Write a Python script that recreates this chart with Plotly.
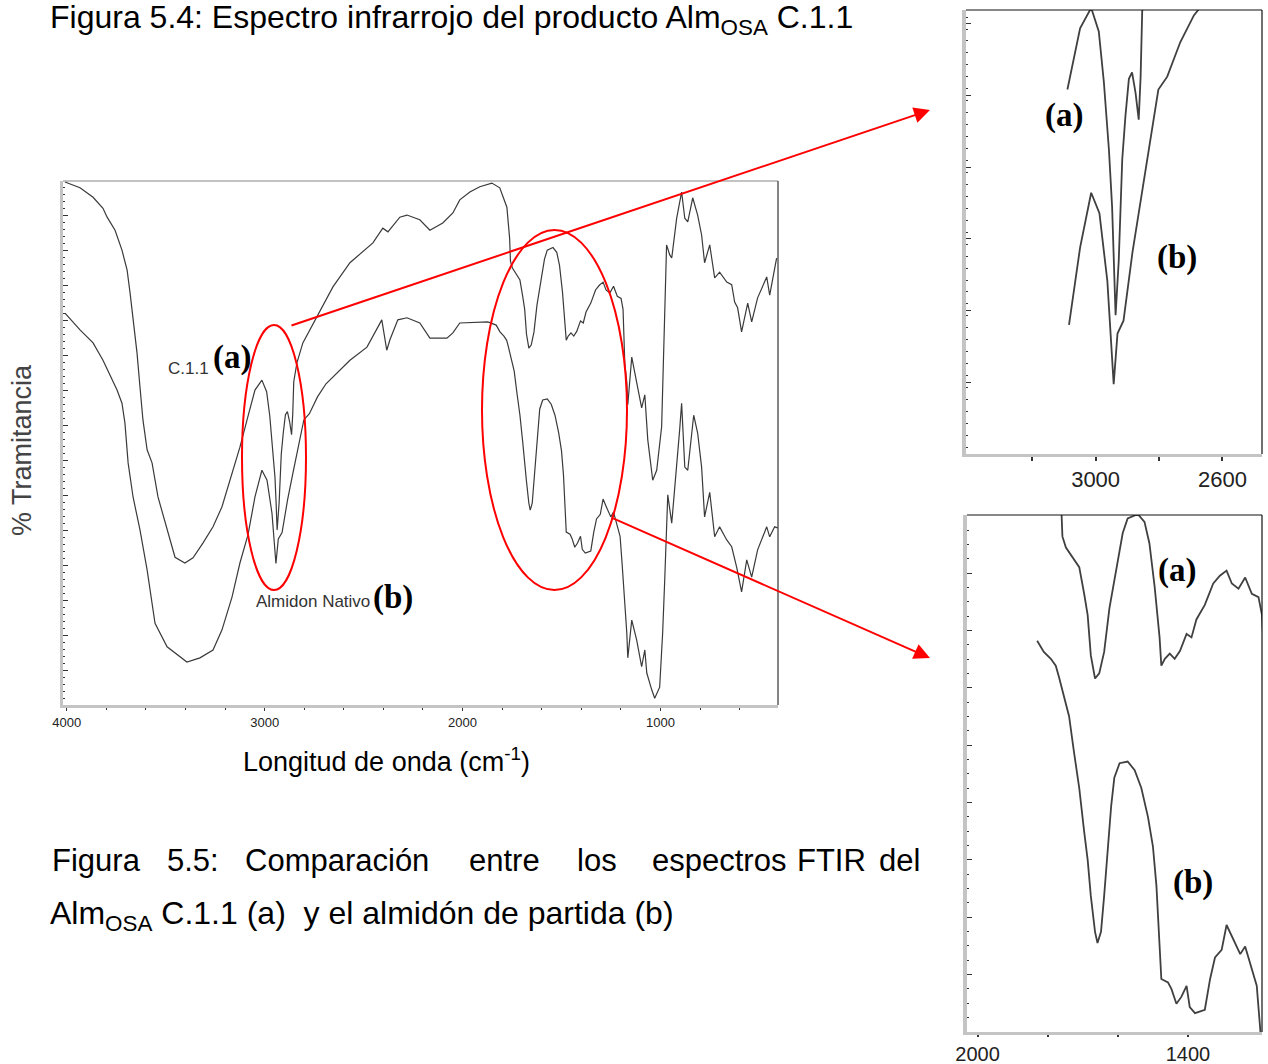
import plotly.graph_objects as go

# ---------------- data ----------------
# Curve (a): Alm_OSA C.1.1 ; wavenumber (cm-1) and % transmittance
a_wn = [4009, 3933, 3867, 3817, 3796, 3756, 3721, 3695, 3680, 3665, 3645, 3630, 3615, 3594,
        3569, 3539, 3493, 3453, 3403, 3362, 3312, 3261, 3216, 3165, 3125, 3089, 3049, 3014,
        2990, 2974, 2958, 2948, 2942, 2937, 2927, 2921, 2916, 2906, 2895, 2885, 2874, 2864,
        2858, 2853, 2837, 2807, 2736, 2655, 2569, 2453, 2403, 2377, 2317, 2281, 2216, 2165,
        2100, 2049, 2014, 1963, 1913, 1852, 1812, 1776, 1762, 1758, 1748, 1729, 1710, 1696,
        1686, 1677, 1665, 1653, 1639, 1624, 1615, 1600, 1586, 1572, 1543, 1524, 1510, 1495,
        1481, 1476, 1466, 1452, 1438, 1423, 1404, 1390, 1376, 1352, 1328, 1309, 1290, 1275,
        1256, 1237, 1218, 1199, 1189, 1185, 1180, 1170, 1165, 1145, 1120, 1095, 1079, 1064,
        1039, 1019, 994, 984, 969, 953, 943, 918, 893, 877, 862, 837, 812, 792, 777, 751,
        726, 701, 665, 640, 625, 610, 590, 559, 539, 509, 463, 448, 433, 413]
a_T = [99.8, 98.7, 96.9, 94.8, 93.1, 90.6, 86.8, 83.0, 78.6, 73.5, 67.2, 60.7, 54.4, 48.7,
       46.2, 39.7, 33.4, 28.2, 27.1, 28.1, 30.9, 34.0, 37.8, 44.3, 49.2, 54.4, 60.1, 62.0,
       59.8, 55.1, 48.8, 43.5, 38.5, 33.4, 38.5, 43.5, 47.9, 51.9, 55.4, 56.0, 54.1, 51.6,
       55.6, 61.7, 65.3, 69.1, 74.0, 79.8, 84.4, 88.2, 91.0, 90.3, 93.1, 93.5, 92.6, 90.6,
       92.0, 93.9, 96.4, 97.9, 98.9, 99.6, 98.7, 95.0, 89.0, 84.7, 83.4, 82.2, 81.1, 78.0,
       75.5, 70.8, 68.1, 68.7, 71.2, 76.3, 78.4, 82.2, 85.1, 86.8, 87.3, 86.4, 83.9, 78.8,
       72.9, 69.6, 70.4, 71.0, 70.4, 71.3, 73.3, 72.9, 75.0, 76.7, 79.2, 80.1, 80.7, 79.2,
       78.6, 79.9, 78.0, 77.6, 75.5, 72.1, 65.0, 61.6, 57.3, 66.4, 61.6, 56.7, 59.2, 50.6,
       42.9, 44.8, 53.1, 67.7, 87.8, 85.9, 85.3, 92.9, 97.9, 92.9, 92.2, 96.8, 93.5, 89.7, 84.4, 87.8,
       81.5, 82.6, 80.7, 80.2, 76.9, 75.8, 71.2, 76.7, 73.1, 77.7, 81.7, 78.2, 81.1, 85.3]

# Curve (b): Almidon Nativo
b_wn = [4009, 3933, 3867, 3817, 3746, 3721, 3706, 3695, 3690, 3665, 3630, 3594, 3554, 3493,
        3393, 3327, 3261, 3216, 3165, 3125, 3084, 3049, 3014, 2988, 2963, 2943, 2931, 2912,
        2884, 2858, 2827, 2802, 2774, 2733, 2690, 2569, 2483, 2408, 2383, 2367, 2327, 2281,
        2216, 2165, 2079, 2049, 2014, 1928, 1872, 1830, 1811, 1791, 1777, 1768, 1753, 1739,
        1725, 1710, 1696, 1686, 1677, 1665, 1658, 1648, 1639, 1629, 1619, 1610, 1595, 1572,
        1552, 1533, 1514, 1500, 1490, 1476, 1457, 1447, 1433, 1419, 1404, 1395, 1380, 1352,
        1337, 1323, 1304, 1290, 1271, 1251, 1237, 1218, 1204, 1194, 1181, 1170, 1165, 1145,
        1120, 1095, 1079, 1069, 1044, 1029, 1004, 989, 979, 969, 963, 943, 928, 903, 893,
        877, 862, 832, 812, 792, 777, 751, 726, 701, 665, 640, 615, 590, 564, 539, 509,
        463, 448, 423, 408]
b_T = [74.8, 71.6, 69.1, 65.8, 60.1, 57.6, 53.8, 48.7, 46.2, 39.7, 33.4, 25.8, 15.6, 11.1,
       8.2, 9.0, 10.5, 14.3, 20.6, 27.1, 32.5, 39.7, 44.8, 42.9, 36.6, 27.0, 31.7, 32.9,
       39.2, 44.1, 49.8, 54.4, 55.6, 58.8, 61.3, 65.8, 68.3, 73.5, 67.7, 69.7, 73.5, 73.9,
       72.9, 70.0, 70.0, 71.0, 72.9, 73.1, 73.1, 72.5, 71.2, 70.4, 69.6, 68.3, 65.8, 63.7,
       59.5, 55.3, 50.2, 46.9, 42.7, 38.5, 37.2, 38.5, 42.7, 47.7, 53.2, 56.5, 58.2, 58.4,
       57.4, 55.3, 51.9, 48.5, 43.9, 33.0, 32.6, 31.8, 30.1, 30.9, 32.2, 29.7, 29.0, 29.4,
       33.0, 35.5, 36.4, 39.3, 37.6, 35.9, 36.8, 34.3, 32.2, 27.1, 20.0, 13.7, 9.0, 16.2,
       12.4, 7.3, 10.5, 6.1, 2.9, 1.3, 3.4, 13.7, 23.3, 32.8, 40.1, 34.7, 41.0, 52.5, 57.6,
       45.4, 44.8, 55.3, 51.9, 45.4, 35.9, 40.6, 32.1, 34.0, 31.5, 30.2, 26.3, 21.6, 27.7, 24.4, 29.6,
       34.0, 32.1, 34.0, 33.8]

main_ticks = [4000, 3000, 2000, 1000]
inset1_ticks = [3200, 3000, 2800, 2600]
inset1_text = ["", "3000", "", "2600"]
inset2_ticks = [2000, 1800, 1600, 1400]
inset2_text = ["2000", "", "", "1400"]
inset1_start = 3090   # first wavenumber shown in the upper zoom
inset2_start = 1830   # first wavenumber shown in the lower zoom

# ---------------- figure ----------------
W, H = 1268, 1064


def px(x):
    return x / W


def py(y):
    return 1 - y / H


LINE = "#3a3a3a"
fig = go.Figure()

# main spectra
fig.add_trace(go.Scatter(x=a_wn, y=a_T, mode="lines", line=dict(color=LINE, width=1.2),
                         xaxis="x", yaxis="y", hoverinfo="skip"))
fig.add_trace(go.Scatter(x=b_wn, y=b_T, mode="lines", line=dict(color=LINE, width=1.2),
                         xaxis="x", yaxis="y", hoverinfo="skip"))


def subset(wn, t, start):
    xs, ys = [], []
    for w, v in zip(wn, t):
        if w <= start:
            xs.append(w)
            ys.append(v)
    return xs, ys


for wn, t in ((a_wn, a_T), (b_wn, b_T)):
    xs, ys = subset(wn, t, inset1_start)
    fig.add_trace(go.Scatter(x=xs, y=ys, mode="lines", line=dict(color="#404040", width=1.8),
                             xaxis="x2", yaxis="y2", hoverinfo="skip"))
    xs, ys = subset(wn, t, inset2_start)
    fig.add_trace(go.Scatter(x=xs, y=ys, mode="lines", line=dict(color="#404040", width=1.8),
                             xaxis="x3", yaxis="y3", hoverinfo="skip"))

AXLINE = "#c4c4c4"
TICKC = "#333"
tickfont_small = dict(family="Liberation Sans, Arial", size=13, color="#222")
tickfont_big = dict(family="Liberation Sans, Arial", size=22, color="#222")
tickfont_big2 = dict(family="Liberation Sans, Arial", size=20, color="#222")

common = dict(showgrid=False, zeroline=False, automargin=False, showline=True, linecolor=AXLINE)

fig.update_layout(
    width=W, height=H, margin=dict(l=0, r=0, t=0, b=0, autoexpand=False),
    paper_bgcolor="white", plot_bgcolor="white", showlegend=False,
    xaxis=dict(domain=[px(63), px(778)], range=[4019, 406], autorange=False,
               tickvals=main_ticks, ticktext=[str(v) for v in main_ticks],
               ticks="outside", ticklen=3, tickcolor=TICKC, tickfont=tickfont_small,
               minor=dict(dtick=200, tick0=0, ticks="outside", ticklen=2, tickcolor=TICKC),
               linewidth=3, anchor="y", **common),
    yaxis=dict(domain=[py(705), py(181)], range=[0, 100], autorange=False,
               tick0=0, dtick=100 / 15, showticklabels=False,
               ticks="inside", ticklen=5, tickcolor=TICKC,
               minor=dict(dtick=100 / 75, ticks="inside", ticklen=2, tickcolor=TICKC),
               linewidth=3, anchor="x", **common),
    xaxis2=dict(domain=[px(966), px(1262)], range=[3409, 2475], autorange=False,
                tickvals=inset1_ticks, ticktext=inset1_text,
                ticks="outside", ticklen=4, tickcolor=TICKC, tickwidth=1.5, tickfont=tickfont_big,
                linewidth=3, anchor="y2", **common),
    yaxis2=dict(domain=[py(454), py(10)], range=[20.5, 61.8], autorange=False,
                tick0=20.5, dtick=6.67, showticklabels=False,
                ticks="inside", ticklen=5, tickcolor=TICKC,
                minor=dict(dtick=6.67 / 6, ticks="inside", ticklen=2, tickcolor=TICKC),
                linewidth=4, anchor="x2", **common),
    xaxis3=dict(domain=[px(967), px(1262)], range=[2030, 1189], autorange=False,
                tickvals=inset2_ticks, ticktext=inset2_text,
                ticks="outside", ticklen=2, tickcolor=TICKC, tickwidth=1.5, tickfont=tickfont_big2,
                linewidth=3, anchor="y3", **common),
    yaxis3=dict(domain=[py(1032), py(515)], range=[26.8, 87.2], autorange=False,
                tick0=26.8, dtick=6.7, showticklabels=False,
                ticks="inside", ticklen=5, tickcolor=TICKC,
                minor=dict(dtick=6.7 / 4, ticks="inside", ticklen=2, tickcolor=TICKC),
                linewidth=4, anchor="x3", **common),
)

shapes = []
# frame borders (top + right) for each panel
for xr, yr, ctop, cright in (("x domain", "y domain", "#888", "#333"),
                             ("x2 domain", "y2 domain", "#111", "#111"),
                             ("x3 domain", "y3 domain", "#111", "#111")):
    shapes.append(dict(type="line", xref=xr, yref=yr, x0=0, x1=1, y0=1, y1=1,
                       line=dict(color=ctop, width=1.2)))
    shapes.append(dict(type="line", xref=xr, yref=yr, x0=1, x1=1, y0=0, y1=1,
                       line=dict(color=cright, width=1.2)))

RED = "#ff0000"
shapes.append(dict(type="circle", xref="paper", yref="paper",
                   x0=px(242), x1=px(306), y0=py(590), y1=py(325),
                   line=dict(color=RED, width=2)))
shapes.append(dict(type="circle", xref="paper", yref="paper",
                   x0=px(482), x1=px(627), y0=py(590), y1=py(230),
                   line=dict(color=RED, width=2)))
fig.update_layout(shapes=shapes)

ann = []
SANS = "Liberation Sans, Arial"
SERIF = "Liberation Serif, Times New Roman"


def text(x, y, s, size, color="#000", family=SANS, xanchor="left", yanchor="middle", angle=0):
    ann.append(dict(x=px(x), y=py(y), xref="paper", yref="paper", text=s, showarrow=False,
                    xanchor=xanchor, yanchor=yanchor, textangle=angle,
                    font=dict(family=family, size=size, color=color)))


# arrows
ann.append(dict(x=px(930), y=py(110), xref="paper", yref="paper", ax=290 - 930, ay=326 - 110,
                axref="pixel", ayref="pixel", showarrow=True, arrowhead=2, arrowsize=1.6,
                arrowwidth=2, arrowcolor=RED, text=""))
ann.append(dict(x=px(930), y=py(658), xref="paper", yref="paper", ax=610 - 930, ay=517 - 658,
                axref="pixel", ayref="pixel", showarrow=True, arrowhead=2, arrowsize=1.6,
                arrowwidth=2, arrowcolor=RED, text=""))

# titles and captions
text(48, 19, "Figura 5.4: Espectro infrarrojo del producto Alm<sub>OSA</sub> C.1.1", 32)
text(386, 760, "Longitud de onda (cm<sup>-1</sup>)", 27, xanchor="center")
text(22, 450, "% Tramitancia", 27, color="#444", xanchor="center", angle=-90)

cap_words = [("Figura", 50), ("5.5:", 165), ("Comparación", 243), ("entre", 467), ("los", 575),
             ("espectros", 650), ("FTIR", 795), ("del", 877)]
for w, x in cap_words:
    text(x, 860, w, 31)
text(48, 915, "Alm<sub>OSA</sub> C.1.1 (a)  y el almidón de partida (b)", 32)

# curve labels
text(166, 369, "C.1.1", 17, color="#333")
text(211, 357, "<b>(a)</b>", 33, family=SERIF)
text(254, 601, "Almidon Nativo", 17, color="#333")
text(371, 597, "<b>(b)</b>", 33, family=SERIF)
text(1043, 115, "<b>(a)</b>", 33, family=SERIF)
text(1155, 258, "<b>(b)</b>", 33, family=SERIF)
text(1156, 570, "<b>(a)</b>", 33, family=SERIF)
text(1171, 882, "<b>(b)</b>", 33, family=SERIF)

fig.update_layout(annotations=ann)
fig.write_html("out.html")
